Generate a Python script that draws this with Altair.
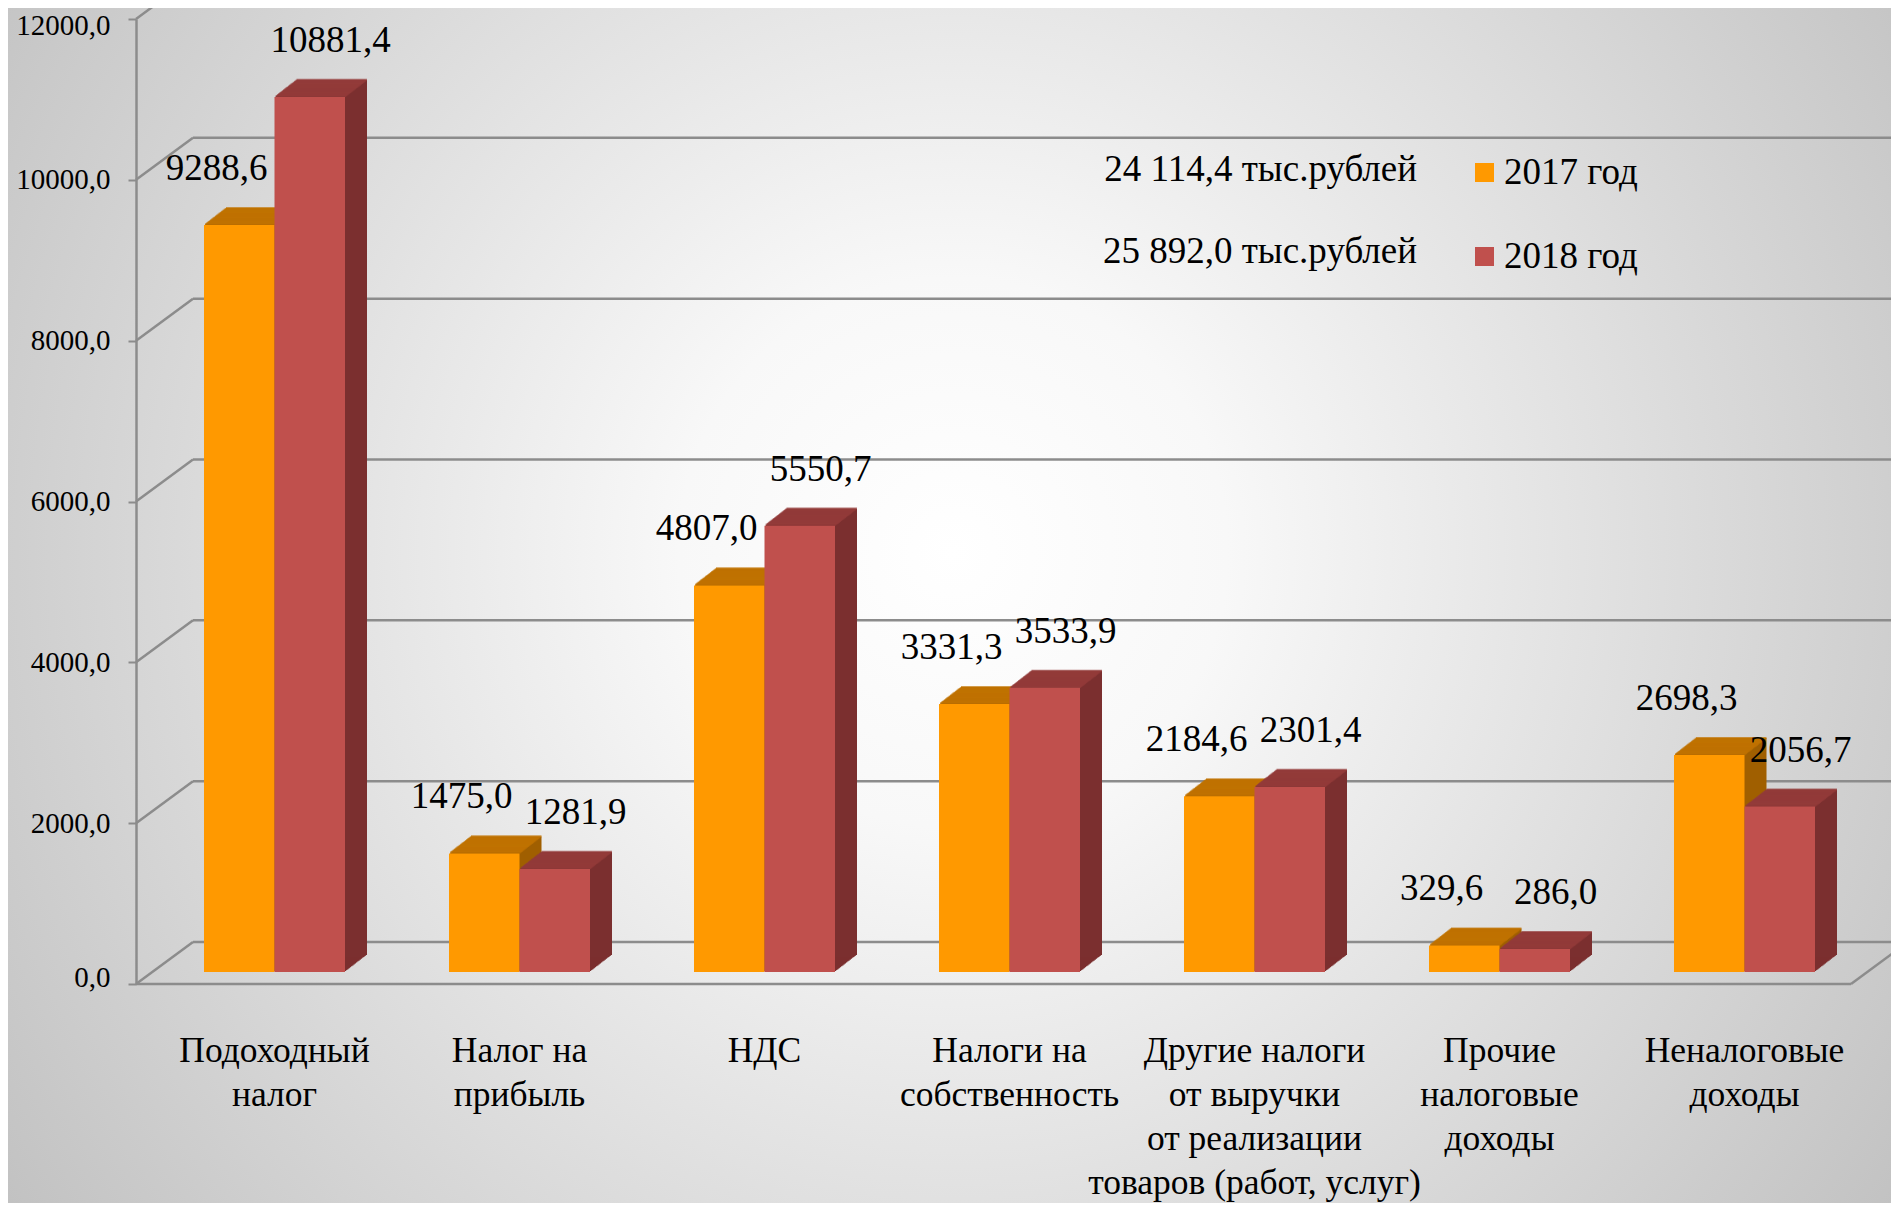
import altair as alt
import pandas as pd

# ---------------- data ----------------
categories = [
    "Подоходный\nналог",
    "Налог на\nприбыль",
    "НДС",
    "Налоги на\nсобственность",
    "Другие налоги\nот выручки\nот реализации\nтоваров (работ, услуг)",
    "Прочие\nналоговые\nдоходы",
    "Неналоговые\nдоходы",
]
values_2017 = [9288.6, 1475.0, 4807.0, 3331.3, 2184.6, 329.6, 2698.3]
values_2018 = [10881.4, 1281.9, 5550.7, 3533.9, 2301.4, 286.0, 2056.7]
years = ["2017 год", "2018 год"]
totals = ["24 114,4 тыс.рублей", "25 892,0 тыс.рублей"]
y_ticks = [0, 2000, 4000, 6000, 8000, 10000, 12000]

# ---------------- style ----------------
W, H = 1715, 965
FONT = "Liberation Serif"
GRID = "#8C8C8C"
FRONT = ["#FF9900", "#C0504D"]
TOP = ["#C27400", "#943C3A"]
SIDE = ["#A05F00", "#7B2F2F"]
BAR_SHIFT = [-19.25, 51.25]     # position of each year's bar within the pair (+ depth shift)
LABEL_SHIFT = [-42, 72]
DEPTH_X, DEPTH_Y = 57, -42      # back wall offset
BAR_DY = -12                    # bars sit a little behind the front plane
EXT_X, EXT_Y = 22, -17          # bar extrusion
N = 18

xscale = alt.Scale(domain=categories, paddingInner=0.71224, paddingOuter=0.35612)
yscale = alt.Scale(domain=[0, 12000], nice=False, zero=True)
yaxis = alt.Axis(
    values=y_ticks,
    labelExpr="replace(format(datum.value, '.1f'), '.', ',')",
    grid=False, domainColor=GRID, domainWidth=2.5, tickColor=GRID, tickWidth=2,
    tickSize=8, labelPadding=18, labelFont=FONT, labelFontSize=29,
    labelColor="black", title=None, zindex=1,
    labelFlush=True, labelFlushOffset=8,
)


def X():
    return alt.X("cat:N", sort=categories, scale=xscale, axis=None)


def Y(field):
    return alt.Y(field, scale=yscale, axis=yaxis)


grid_df = pd.DataFrame({"t": y_ticks})
zero_df = pd.DataFrame({"t": [0]})

bg = alt.Chart(zero_df).mark_rect(
    fill={
        "gradient": "radial",
        "x1": 0.5, "y1": 0.47, "r1": 0,
        "x2": 0.5, "y2": 0.47, "r2": 0.72,
        "stops": [
            {"offset": 0, "color": "#FFFFFF"},
            {"offset": 0.2, "color": "#F8F8F8"},
            {"offset": 1, "color": "#B4B4B4"},
        ],
    }
).encode(x=alt.value(-136), x2=alt.value(1770), y=alt.value(-19), y2=alt.value(1200))

back_grid = alt.Chart(grid_df).mark_rule(
    color=GRID, strokeWidth=2.5, yOffset=DEPTH_Y, y2Offset=DEPTH_Y
).encode(x=alt.value(DEPTH_X), x2=alt.value(1780), y=Y("t:Q"), y2="t:Q")

diag = alt.Chart(grid_df).mark_rule(
    color=GRID, strokeWidth=2.5, y2Offset=DEPTH_Y
).encode(x=alt.value(0), x2=alt.value(DEPTH_X), y=Y("t:Q"), y2="t:Q")

floor_front = alt.Chart(zero_df).mark_rule(color=GRID, strokeWidth=2.5).encode(
    x=alt.value(0), x2=alt.value(W), y=Y("t:Q"), y2="t:Q"
)
floor_right = alt.Chart(zero_df).mark_rule(
    color=GRID, strokeWidth=2.5, y2Offset=DEPTH_Y
).encode(x=alt.value(W), x2=alt.value(W + DEPTH_X), y=Y("t:Q"), y2="t:Q")

layers = [bg, back_grid, diag, floor_front, floor_right]

legend = alt.Legend(
    orient="none", legendX=1330, legendY=135, title=None,
    symbolType="square", symbolSize=361, symbolStrokeWidth=0,
    labelFont=FONT, labelFontSize=37, labelColor="black",
    rowPadding=46, labelOffset=1, padding=0,
)
color_scale = alt.Scale(domain=years, range=FRONT)

for i, (yr, vals) in enumerate(zip(years, [values_2017, values_2018])):
    df = pd.DataFrame({"cat": categories, "v": vals, "year": yr})
    base = alt.Chart(df)
    xo = BAR_SHIFT[i]
    # side faces
    for k in range(1, N + 1):
        ox = xo + k * EXT_X / N
        oy = BAR_DY + k * EXT_Y / N
        layers.append(
            base.mark_bar(color=SIDE[i], xOffset=ox, yOffset=oy, y2Offset=oy).encode(
                x=X(), y=Y("v:Q")
            )
        )
    # top faces
    for k in range(1, N + 1):
        ox = xo + k * EXT_X / N
        oy = BAR_DY + k * EXT_Y / N
        layers.append(
            base.mark_tick(
                color=TOP[i], orient="horizontal", size=70.5, thickness=2.2,
                xOffset=ox, yOffset=oy,
            ).encode(x=X(), y=Y("v:Q"))
        )
    # front face
    layers.append(
        base.mark_bar(xOffset=xo, yOffset=BAR_DY, y2Offset=BAR_DY).encode(
            x=X(), y=Y("v:Q"),
            color=alt.Color("year:N", scale=color_scale, legend=legend),
        )
    )

for i, (yr, vals) in enumerate(zip(years, [values_2017, values_2018])):
    df = pd.DataFrame({"cat": categories, "v": vals})
    layers.append(
        alt.Chart(df)
        .transform_calculate(lbl="replace(format(datum.v, '.1f'), '.', ',')")
        .mark_text(
            font=FONT, fontSize=37, color="black", baseline="middle",
            xOffset=LABEL_SHIFT[i], yOffset=BAR_DY - 56,
        )
        .encode(x=X(), y=Y("v:Q"), text="lbl:N")
    )

cat_df = pd.DataFrame({"cat": categories})
layers.append(
    alt.Chart(cat_df).mark_text(
        font=FONT, fontSize=35.5, color="black", baseline="top", align="center",
        lineBreak="\n", lineHeight=44, xOffset=16,
    ).encode(x=X(), y=alt.value(1015), text="cat:N")
)

for i, t in enumerate(totals):
    layers.append(
        alt.Chart(pd.DataFrame({"t": [t]})).mark_text(
            font=FONT, fontSize=37, color="black", align="right", baseline="middle"
        ).encode(x=alt.value(1281), y=alt.value(151 + i * 82), text="t:N")
    )

chart = (
    alt.layer(*layers)
    .properties(
        width=W, height=H,
        autosize=alt.AutoSizeParams(type="none"),
        padding={"left": 128, "top": 11, "right": 40, "bottom": 219},
    )
    .configure_view(stroke=None)
    .configure_axis(labelFont=FONT, labelFontSize=29, labelColor="black")
    .configure_legend(labelFont=FONT, labelFontSize=37, labelColor="black")
    .configure(background="#C4C4C4")
)

chart.save("out.html", embed_options={"renderer": "svg", "actions": False})
